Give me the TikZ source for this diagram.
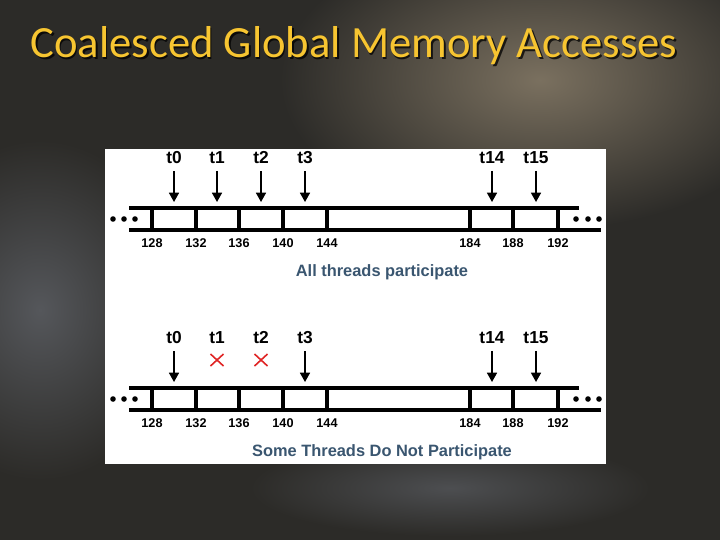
\documentclass[tikz,border=0pt]{standalone}
\usepackage{fontspec}
\setmainfont{Liberation Sans}
\newfontfamily\titlefont{Carlito}
\usetikzlibrary{arrows.meta,positioning}
\definecolor{cbg}{HTML}{2C2B28}
\definecolor{ctan}{HTML}{7A705F}
\definecolor{cgrey}{HTML}{55575B}
\definecolor{cgold}{HTML}{F7C531}
\definecolor{cslate}{HTML}{3A5670}
\definecolor{cred}{HTML}{E02424}
\tikzset{
  >={Triangle[length=7pt,width=7.5pt]},
  mline/.style={black, line width=2.4pt},
  mthr/.style={font=\bfseries\fontsize{13}{14}\selectfont, inner sep=1pt},
  maddr/.style={font=\bfseries\fontsize{9.5}{10}\selectfont, inner sep=1pt},
  mcap/.style={cslate, font=\bfseries\fontsize{12.3}{13}\selectfont},
  macc/.style={->, line width=1.2pt, shorten <=4pt},
  mnot/.style={cred, line width=1.2pt},
  mtitle/.style={font=\titlefont\fontsize{33.5}{40}\selectfont, inner sep=0pt},
}

\begin{document}
\begin{tikzpicture}[x=0.75pt,y=-0.75pt]
  \useasboundingbox (0,0) rectangle (720,540);

  % background
  \fill[cbg] (0,0) rectangle (720,540);
  \shade[inner color=ctan, outer color=cbg] (540,80) ellipse [x radius=260, y radius=150];
  \shade[inner color=cgrey, outer color=cbg] (40,310) ellipse [x radius=140, y radius=170];
  \shade[inner color=cgrey!80!cbg, outer color=cbg] (450,488) ellipse [x radius=200, y radius=48];
  \fill[white] (105,149) rectangle (606,464);

  % title
  \node[mtitle, black, opacity=0.75] (titleshadow) at (355.5,48) {Coalesced Global Memory Accesses};
  \node[mtitle, cgold] (title) at (354,46) {Coalesced Global Memory Accesses};

  % two memory rows
  \foreach \yy/\cap [count=\r] in {208/{All threads participate},
                                   388/{Some Threads Do Not Participate}}
  {
    \begin{scope}[shift={(0,\yy)}]
      \draw[mline] (129,0) -- (579,0);
      \draw[mline] (129,22) -- (601,22);
      \foreach \xx/\addr in {152/128,196/132,239/136,283/140,327/144,
                             470/184,513/188,558/192}
      {
        \draw[mline] (\xx,0) -- (\xx,22);
        \node[maddr] (a\r-\addr) at (\xx,35) {\addr};
      }
      \foreach \dx in {113,124,135,576,588,599}
        \fill (\dx,11) circle [radius=2.1pt];
      \foreach \xx/\tn in {174/0,217/1,261/2,305/3,492/14,536/15}
      {
        \node[mthr] (thr\r-\tn) at (\xx,-50) {t\tn};
        \coordinate (hit\r-\tn) at (\xx,-6);
      }
      \foreach \tn in {0,3,14,15}
        \draw[macc] (thr\r-\tn.south) -- (hit\r-\tn);
      \node[mcap] (cap\r) at (382,64) {\cap};
    \end{scope}
  }

  % row 1: every thread reads
  \foreach \tn in {1,2}
    \draw[macc] (thr1-\tn.south) -- (hit1-\tn);

  % row 2: t1 and t2 are idle
  \foreach \tn in {1,2}
  {
    \path (thr2-\tn) ++(0,22) coordinate (miss-\tn);
    \draw[mnot] (miss-\tn) ++(-6.5,-6) -- ++(13,12);
    \draw[mnot] (miss-\tn) ++(6.5,-6) -- ++(-13,12);
  }

\end{tikzpicture}
\end{document}
